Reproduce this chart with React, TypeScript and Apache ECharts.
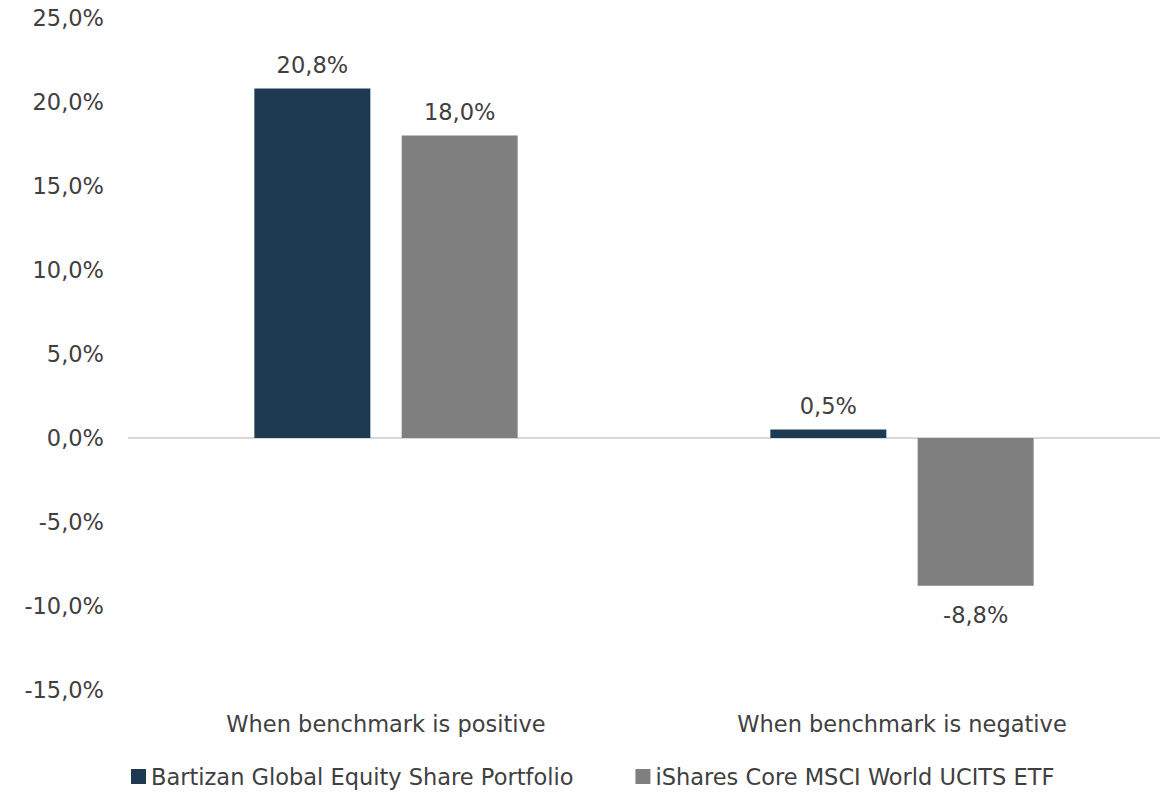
import React, { useEffect, useRef } from "react";
import * as echarts from "echarts";

const categories = ["When benchmark is positive", "When benchmark is negative"];
const seriesNames = ["Bartizan Global Equity Share Portfolio", "iShares Core MSCI World UCITS ETF"];
const bartizanValues = [20.8, 0.5];
const isharesValues = [18.0, -8.8];
const yMin = -15;
const yMax = 25;
const yInterval = 5;

const fmt = (v: number) => v.toFixed(1).replace(".", ",") + "%";
const FONT = "DejaVu Sans";
const TEXT = "#404040";
const FS = 22.5;

export default function App() {
  const ref = useRef<HTMLDivElement>(null);
  useEffect(() => {
    if (!ref.current) return;
    const chart = echarts.init(ref.current, undefined, { renderer: "svg" });
    const labelCfg = {
      show: true,
      distance: 12,
      color: TEXT,
      fontSize: FS,
      fontFamily: FONT,
      formatter: (p: any) => fmt(p.value),
    };
    chart.setOption({
      animation: false,
      backgroundColor: "#ffffff",
      textStyle: { fontFamily: FONT },
      grid: { left: 128, right: 7, top: 18, bottom: 105, containLabel: false },
      legend: {
        bottom: 2,
        left: 126,
        itemGap: 62,
        itemWidth: 15,
        itemHeight: 15,
        icon: "rect",
        textStyle: { color: TEXT, fontSize: FS, fontFamily: FONT },
        data: seriesNames,
      },
      xAxis: {
        type: "category",
        data: categories,
        position: "bottom",
        axisLine: { show: false, onZero: false },
        axisTick: { show: false },
        axisLabel: { color: TEXT, fontSize: FS, fontFamily: FONT, margin: 22 },
      },
      yAxis: {
        type: "value",
        min: yMin,
        max: yMax,
        interval: yInterval,
        splitLine: { show: false },
        axisLine: { show: false },
        axisTick: { show: false },
        axisLabel: {
          color: TEXT,
          fontSize: FS,
          fontFamily: FONT,
          margin: 24,
          formatter: (v: number) => fmt(v),
        },
      },
      series: [
        {
          name: seriesNames[0],
          type: "bar",
          data: bartizanValues,
          barWidth: 116,
          barGap: "27%",
          itemStyle: { color: "#1E3A52" },
          label: { ...labelCfg, position: "top" },
          markLine: {
            silent: true,
            symbol: "none",
            label: { show: false },
            lineStyle: { color: "#D9D9D9", width: 2, type: "solid" },
            data: [{ yAxis: 0 }],
            z: 1,
          },
          z: 3,
        },
        {
          name: seriesNames[1],
          type: "bar",
          data: isharesValues.map((v) => ({
            value: v,
            label: v < 0 ? { position: "bottom", distance: 18 } : { position: "top" },
          })),
          barWidth: 116,
          itemStyle: { color: "#7F7F7F" },
          label: labelCfg,
          z: 3,
        },
      ],
    });
    return () => chart.dispose();
  }, []);
  return (
    <div
      ref={ref}
      style={{ position: "fixed", left: 0, top: 0, width: 1167, height: 795 }}
    />
  );
}
